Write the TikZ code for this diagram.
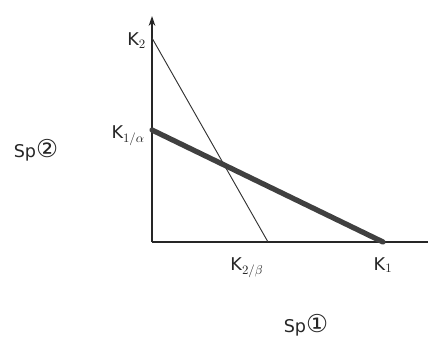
\documentclass[tikz,border=0pt]{standalone}
\usepackage{fontspec}
\setmainfont{DejaVu Sans}
\usepackage{tikz}
\usetikzlibrary{positioning, arrows.meta}

\newcommand{\spnum}[1]{{\fontsize{21}{21}\selectfont #1}}

\begin{document}
\begin{tikzpicture}[
    x=0.03cm, y=-0.03cm,
    axis/.style={line width=1.3pt, black!85},
    thinline/.style={line width=0.8pt, black!80},
    thickline/.style={line width=4.5pt, black!75},
    lbl/.style={font=\fontsize{15}{18}\selectfont, inner sep=1pt, black!85},
]
\useasboundingbox (0,0) rectangle (428,338);

% Axes
\coordinate (o) at (152,242);
\coordinate (ytop) at (152,16);
\coordinate (xend) at (428,242);
\draw[axis, -{Stealth[length=3mm, width=2mm]}] (o) -- (ytop);
\draw[axis] (o) -- (xend);

% Intercepts
\coordinate (k2) at (152,38);
\coordinate (k2b) at (268,242);
\coordinate (k1a) at (152,130);
\coordinate (k1) at (383,242);

% Lines
\draw[thinline] (k2) -- (k2b);
\draw[thickline, line cap=round] (k1a) -- (k1);

% Labels
\node[lbl, left=4pt of k2, yshift=-2pt] (lk2) {K$_2$};
\node[lbl, left=5pt of k1a, yshift=-5pt] (lk1a) {K$_{1/\alpha}$};
\node[lbl, below=12pt of k2b, xshift=-18pt] (lk2b) {K$_{2/\beta}$};
\node[lbl, below=12pt of k1] (lk1) {K$_1$};
\node[lbl] (sp2) at (36,150) {Sp\spnum{②}};
\node[lbl] (sp1) at (306,325) {Sp\spnum{①}};

\end{tikzpicture}
\end{document}
